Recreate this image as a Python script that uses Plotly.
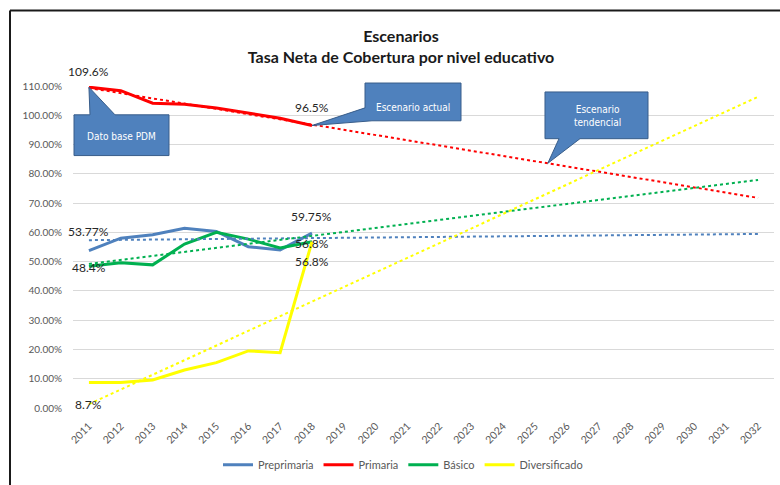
import numpy as np
import plotly.graph_objects as go

# Observed net coverage rates (%) by education level
years = [2011, 2012, 2013, 2014, 2015, 2016, 2017, 2018]
preprimaria = [53.77, 58.0, 59.2, 61.4, 60.3, 55.1, 54.0, 59.75]
primaria = [109.6, 108.4, 104.1, 103.8, 102.5, 100.7, 99.0, 96.5]
basico = [48.4, 49.6, 48.9, 56.0, 60.0, 57.7, 54.7, 56.8]
diversificado = [8.7, 8.7, 9.6, 13.0, 15.5, 19.5, 18.9, 56.8]

# Horizon of the projection
axis_years = list(range(2011, 2033))

series = [
    ("Preprimaria", preprimaria, "#4F81BD"),
    ("Primaria", primaria, "#FF0000"),
    ("Básico", basico, "#00B050"),
    ("Diversificado", diversificado, "#FFFF00"),
]

# Plot-area geometry (pixels in a 780x485 page)
L, R, T, B = 73, 774, 86, 410
W, H = 780, 485
X0, X1 = 2010.5, 2032.5
Y0, Y1 = 0, 110

FONT = "Lato, Open Sans, sans-serif"


def px(p):
    return (p - L) / (R - L)


def py(p):
    return (B - p) / (B - T)


def dx(x):
    return (x - X0) / (X1 - X0)


def dy(y):
    return (y - Y0) / (Y1 - Y0)


fig = go.Figure()

trends = {}
for name, vals, color in series:
    fig.add_trace(go.Scatter(
        x=years, y=vals, name=name, mode="lines",
        line=dict(color=color, width=3),
    ))

# Linear trend of each level, projected to the end of the horizon
for name, vals, color in series:
    slope, icpt = np.polyfit(years, vals, 1)
    trends[name] = (slope, icpt)
    tx = [axis_years[0], axis_years[-1]]
    fig.add_trace(go.Scatter(
        x=tx, y=[slope * t + icpt for t in tx], mode="lines",
        line=dict(color=color, width=2, dash="dot"),
        showlegend=False, hoverinfo="skip",
    ))

# Value labels: (x, y, text, vertical shift in px)
labels = [
    (2011, primaria[0], "109.6%", 16),
    (2018, primaria[-1], "96.5%", 18),
    (2018, preprimaria[-1], "59.75%", 17),
    (2011, preprimaria[0], "53.77%", 19),
    (2011, basico[0], "48.4%", -1),
    (2018, basico[-1], "56.8%", -2),
    (2018, diversificado[-1], "56.8%", -20),
    (2011, diversificado[0], "8.7%", -22),
]
annotations = []
for x, y, t, s in labels:
    annotations.append(dict(
        x=x, y=y, xref="x", yref="y", text=t, showarrow=False,
        xanchor="center", yanchor="middle", yshift=s,
        font=dict(family=FONT, size=12, color="#262626"),
    ))

# Callout shapes
box_fill = "#4F81BD"
box_line = "#385D8A"
callout_font = dict(family="Liberation Sans Narrow, DejaVu Sans Condensed, Arial Narrow, sans-serif",
                    size=10, color="white")


def path(points):
    return "M " + " L ".join(f"{x:.5f},{y:.5f}" for x, y in points) + " Z"


def callout_text(x, y, text):
    annotations.append(dict(x=x, y=y, xref="paper", yref="paper", text=text,
                            xanchor="center", yanchor="middle", showarrow=False,
                            font=callout_font))


shapes = []

# "Dato base PDM": pointer from box top to the 2011 Primaria value
tip = (dx(2011), dy(primaria[0]))
bx0, bx1, by0, by1 = px(74), px(169), py(115), py(156)
shapes.append(dict(type="path", xref="paper", yref="paper", path=path([
    (bx0, by0), (px(90), by0), tip, (px(115), by0), (bx1, by0), (bx1, by1), (bx0, by1)
]), fillcolor=box_fill, line=dict(color=box_line, width=1), layer="above"))
callout_text(px(121), py(137), "Dato base PDM")

# "Escenario actual": pointer from lower-left corner to the 2018 Primaria value
tip = (dx(2018), dy(primaria[-1]))
bx0, bx1, by0, by1 = px(365), px(461), py(83), py(121)
shapes.append(dict(type="path", xref="paper", yref="paper", path=path([
    (bx0, by0), (bx1, by0), (bx1, by1), (px(372), by1), tip, (bx0, py(108))
]), fillcolor=box_fill, line=dict(color=box_line, width=1), layer="above"))
callout_text(px(413), py(108), "Escenario actual")

# "Escenario tendencial": pointer down to the Primaria trend line
ts, ti = trends["Primaria"]
tx = 2025.4
tip = (dx(tx), dy(ts * tx + ti))
bx0, bx1, by0, by1 = px(545), px(648), py(92), py(139)
shapes.append(dict(type="path", xref="paper", yref="paper", path=path([
    (bx0, by0), (bx1, by0), (bx1, by1), (px(580), by1), tip, (px(559), by1), (bx0, by1)
]), fillcolor=box_fill, line=dict(color=box_line, width=1), layer="above"))
callout_text(px(597), py(116), "Escenario<br>tendencial")

# Chart frame (top and left edges)
shapes.append(dict(type="line", xref="paper", yref="paper",
                   x0=px(10), y0=py(10), x1=px(W + 5), y1=py(10),
                   line=dict(color="#1a1a1a", width=2)))
shapes.append(dict(type="line", xref="paper", yref="paper",
                   x0=px(10), y0=py(10), x1=px(10), y1=py(H + 5),
                   line=dict(color="#1a1a1a", width=2)))

fig.update_layout(
    width=W, height=H,
    margin=dict(l=L, r=W - R, t=T, b=H - B),
    paper_bgcolor="white", plot_bgcolor="white",
    title=dict(
        text="<b>Escenarios<br>Tasa Neta de Cobertura por nivel educativo</b>",
        x=401 / W, xanchor="center", xref="container",
        y=1 - 42 / H, yanchor="middle", yref="container",
        font=dict(family=FONT, size=16, color="#1a1a1a"),
    ),
    xaxis=dict(
        range=[X0, X1], tickvals=axis_years, ticktext=[str(y) for y in axis_years],
        tickangle=-45, showgrid=False, zeroline=False, showline=False, ticks="",
        ticklabelstandoff=9,
        tickfont=dict(family=FONT, size=10.5, color="#595959"),
    ),
    yaxis=dict(
        range=[Y0, Y1], dtick=10, tickformat=".2f", ticksuffix="%",
        showgrid=True, gridcolor="#D9D9D9", gridwidth=1, zeroline=False,
        showline=False, ticks="", ticklabelstandoff=10,
        tickfont=dict(family=FONT, size=10, color="#595959"),
    ),
    legend=dict(
        orientation="h", x=px(403), xanchor="center", y=py(467), yanchor="middle",
        font=dict(family=FONT, size=11, color="#595959"),
        bgcolor="rgba(0,0,0,0)",
    ),
    annotations=annotations,
    shapes=shapes,
    showlegend=True,
)

fig.write_html("out.html")
